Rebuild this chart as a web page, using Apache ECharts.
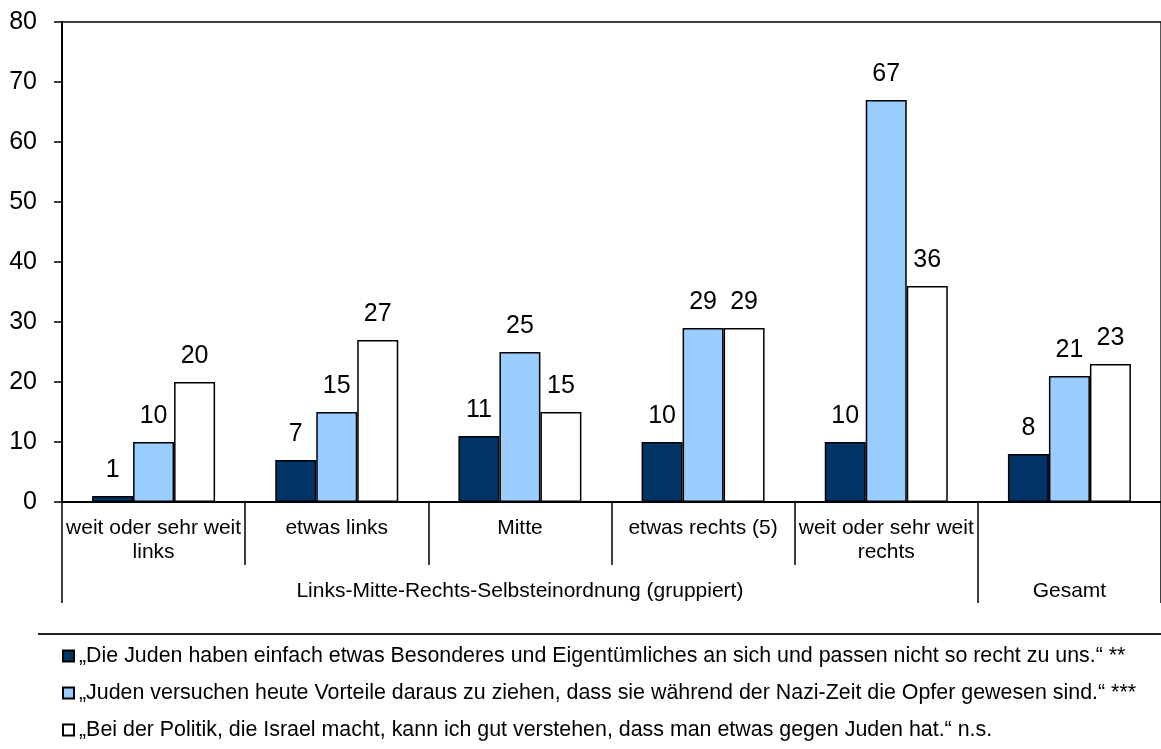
<!DOCTYPE html>
<html>
<head>
<meta charset="utf-8">
<script src="https://cdn.jsdelivr.net/npm/echarts@6/dist/echarts.min.js"></script>
<style>
  html, body { margin: 0; padding: 0; background: #fff; }
  #chart { width: 1161px; height: 749px; }
</style>
</head>
<body>
<div id="chart"></div>
<script>
// Political self-placement groups (first axis row)
const categories = [
  'weit oder sehr weit\nlinks',
  'etwas links',
  'Mitte',
  'etwas rechts (5)',
  'weit oder sehr weit\nrechts',
  ''
];
// Group labels (second axis row); the group label sits under the middle category
const groupLabels = ['', '', 'Links-Mitte-Rechts-Selbsteinordnung (gruppiert)', '', '', 'Gesamt'];
// Tick positions that separate the groups on the second row
const groupBoundaries = [0, 5];

const seriesNames = [
  '\u201EDie Juden haben einfach etwas Besonderes und Eigentümliches an sich und passen nicht so recht zu uns.\u201C **',
  '\u201EJuden versuchen heute Vorteile daraus zu ziehen, dass sie während der Nazi-Zeit die Opfer gewesen sind.\u201C ***',
  '\u201EBei der Politik, die Israel macht, kann ich gut verstehen, dass man etwas gegen Juden hat.\u201C n.s.'
];
const besonderes = [1, 7, 11, 10, 10, 8];
const vorteile = [10, 15, 25, 29, 67, 21];
const israel = [20, 27, 15, 29, 36, 23];
const yTicks = { min: 0, max: 80, interval: 10 };

const colors = ['#003366', '#99CCFF', '#FFFFFF'];
const FONT = '"Liberation Sans", Arial, Helvetica, sans-serif';

function barSeries(name, data, color) {
  return {
    name: name,
    type: 'bar',
    data: data,
    barWidth: 41,
    barGap: '0%',
    itemStyle: { color: color, borderColor: '#000', borderWidth: 1.5 },
    label: {
      show: true,
      position: 'top',
      distance: 13,
      color: '#000',
      fontSize: 25,
      fontFamily: FONT
    }
  };
}

const chart = echarts.init(document.getElementById('chart'), null, { renderer: 'canvas' });
chart.setOption({
  backgroundColor: '#fff',
  animation: false,
  grid: {
    left: 62, top: 22, width: 1101, height: 480,
    show: true, borderColor: '#000', borderWidth: 1.3, backgroundColor: 'transparent'
  },
  legend: {
    orient: 'vertical',
    left: 62,
    top: 644,
    padding: 0,
    itemWidth: 11,
    itemHeight: 11,
    itemGap: 13,
    icon: 'rect',
    textStyle: { fontSize: 21.4, fontFamily: FONT, color: '#000', lineHeight: 24 },
    data: seriesNames
  },
  xAxis: [
    {
      type: 'category',
      data: categories,
      position: 'bottom',
      axisLine: { show: true, lineStyle: { color: '#000', width: 2 } },
      axisTick: { show: true, length: 63, lineStyle: { color: '#000', width: 1.5 } },
      axisLabel: {
        interval: 0, margin: 14, color: '#000', fontSize: 21, fontFamily: FONT,
        lineHeight: 24, align: 'center'
      }
    },
    {
      type: 'category',
      data: groupLabels,
      position: 'bottom',
      gridIndex: 0,
      axisLine: { show: false },
      axisTick: {
        show: true, length: 101,
        interval: function (index) { return groupBoundaries.indexOf(index) >= 0; },
        lineStyle: { color: '#000', width: 1.5 }
      },
      axisLabel: {
        interval: 0, margin: 77, color: '#000', fontSize: 21, fontFamily: FONT, lineHeight: 24
      }
    }
  ],
  yAxis: {
    type: 'value',
    min: yTicks.min, max: yTicks.max, interval: yTicks.interval,
    axisLine: { show: true, lineStyle: { color: '#000', width: 2 } },
    axisTick: { show: true, length: 8, lineStyle: { color: '#000', width: 1.5 } },
    splitLine: { show: false },
    axisLabel: { margin: 25, color: '#000', fontSize: 25, fontFamily: FONT }
  },
  graphic: [
    {
      type: 'line',
      shape: { x1: 38, y1: 634, x2: 1161, y2: 634 },
      style: { stroke: '#222', lineWidth: 2 },
      silent: true
    }
  ],
  series: [
    barSeries(seriesNames[0], besonderes, colors[0]),
    barSeries(seriesNames[1], vorteile, colors[1]),
    barSeries(seriesNames[2], israel, colors[2])
  ]
});
</script>
</body>
</html>
